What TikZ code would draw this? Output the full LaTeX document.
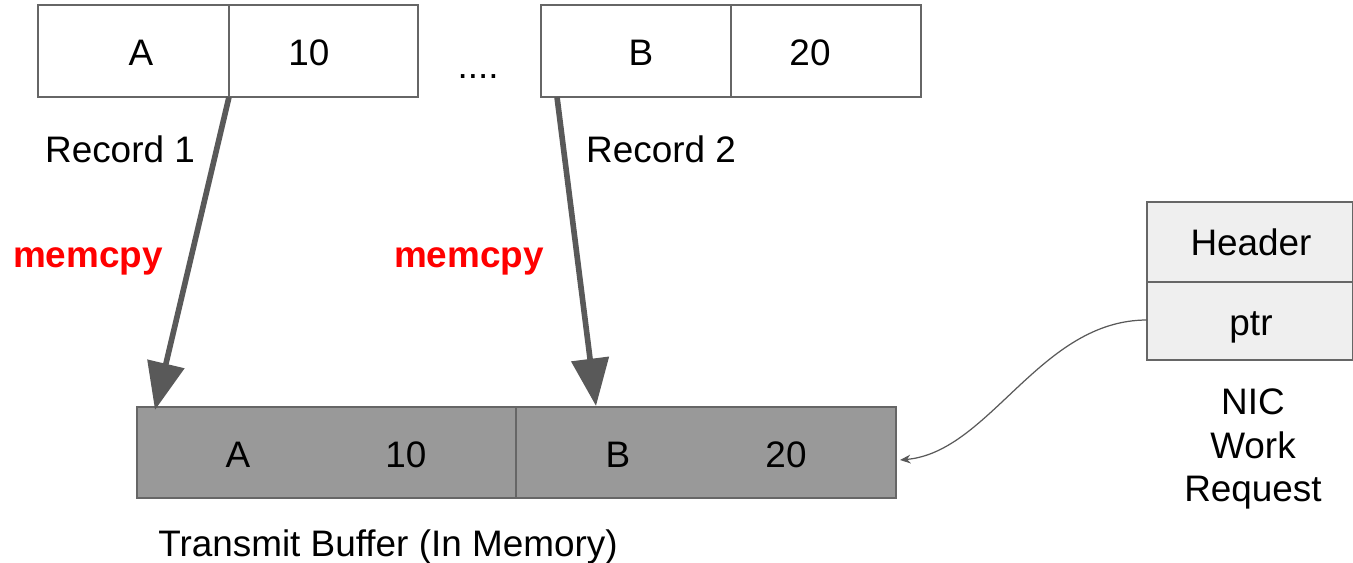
\documentclass[tikz,border=0pt]{standalone}
\usepackage{fontspec}
\setmainfont{Liberation Sans}
\usetikzlibrary{arrows.meta}

\definecolor{linegray}{HTML}{666666}
\definecolor{arrowgray}{HTML}{595959}
\definecolor{bufgray}{HTML}{999999}
\definecolor{nicgray}{HTML}{EFEFEF}
\definecolor{memred}{HTML}{FF0000}

\tikzset{
  txt/.style={font=\fontsize{21}{25}\selectfont, inner sep=0pt, anchor=base},
  redtxt/.style={txt, font=\fontsize{21}{25}\selectfont\bfseries, text=memred},
  cellline/.style={draw=linegray, line width=0.8pt},
  memarrow/.style={draw=arrowgray, line width=3.2pt, -{Triangle[length=27pt,width=21pt]}},
  ptrarrow/.style={draw=arrowgray, line width=0.7pt, -{Stealth[length=6pt,width=5pt]}}
}

\begin{document}
\begin{tikzpicture}[x=0.02cm, y=-0.02cm]
      \useasboundingbox (0,0) rectangle (1353,562);

      % source records
      \foreach \x\w in {38/191,541/190} {
        \draw[cellline, fill=white] (\x,5) rectangle ++(380,92);
        \draw[cellline] (\x+\w,5) -- ++(0,92);
      }
      \node[txt](recA) at (141, 65){A};
      \node[txt](rec10) at (309, 65){10};
      \node[txt](recB) at (641, 65){B};
      \node[txt](rec20) at (810, 65){20};
      \node[txt](dots) at (478, 78){....};

      \node[txt](rec1) at (120,162){Record 1};
      \node[txt](rec2) at (661,162){Record 2};

      \node[redtxt](cpy1) at ( 88,267){memcpy};
      \node[redtxt](cpy2) at (469,267){memcpy};

      % transmit buffer
      \draw[cellline, fill=bufgray] (137,407) rectangle (896,498);
      \draw[cellline] (516,407) -- (516,498);
      \node[txt](bufA) at (238,467){A};
      \node[txt](buf10) at (406,467){10};
      \node[txt](bufB) at (618,467){B};
      \node[txt](buf20) at (786,467){20};
      \node[txt](bufname) at (388,556){Transmit Buffer (In Memory)};

      % NIC work request
      \draw[cellline, fill=nicgray] (1147,202) rectangle (1353,360);
      \draw[cellline] (1147,282) -- (1353,282);
      \node[txt](hdr) at (1251,255){Header};
      \node[txt](ptr) at (1251,335){ptr};
      \node[txt, align=center, anchor=center](nic) at (1253,449){NIC\\Work\\Request};

      % copies and pointer
      \coordinate (r1out) at (229,97);
      \coordinate (r2out) at (557,97);
      \coordinate (b1in) at (155,410);
      \coordinate (b2in) at (596,406);
      \coordinate (ptrout) at (1147,320);
      \coordinate (b3in) at (900,460);

      \draw[memarrow] (r1out) -- (b1in);
      \draw[memarrow] (r2out) -- (b2in);
      \draw[ptrarrow] (ptrout) .. controls (1040,320) and (990,452) .. (b3in);
\end{tikzpicture}
\end{document}
